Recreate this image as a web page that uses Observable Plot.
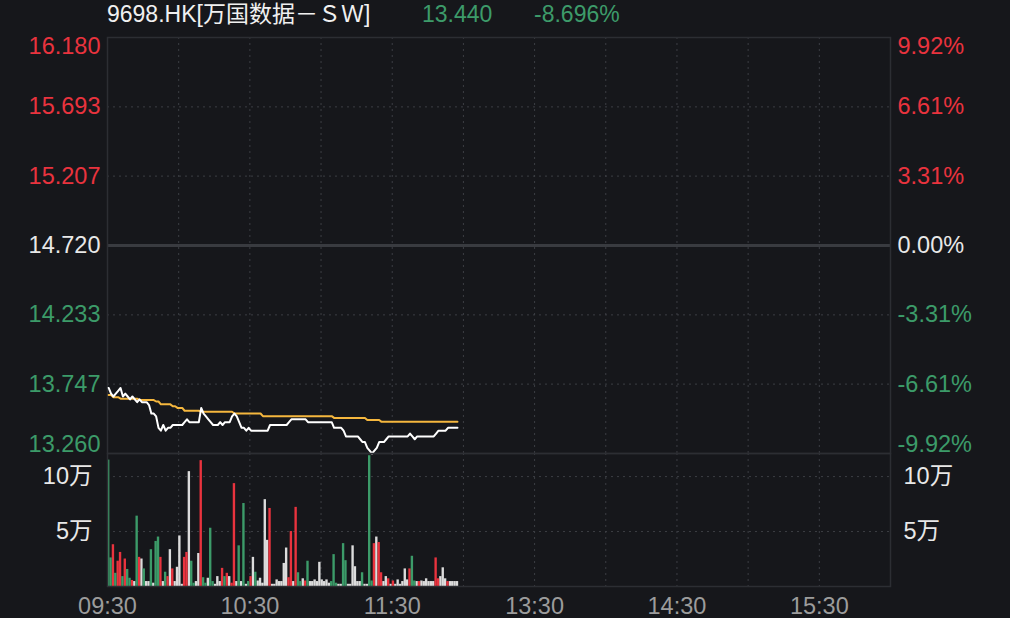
<!DOCTYPE html>
<html>
<head>
<meta charset="utf-8">
<script src="https://cdn.jsdelivr.net/npm/d3@7"></script>
<script src="https://cdn.jsdelivr.net/npm/@observablehq/plot@0.6"></script>
<style>
html,body{margin:0;padding:0;background:#16171b;width:1010px;height:618px;overflow:hidden;}
#wrap{position:relative;width:1010px;height:618px;font-family:'Liberation Sans',Arial,'Noto Sans CJK SC',sans-serif;}
#hdr{position:absolute;left:0;top:0;height:30px;width:1010px;font-size:23px;color:#f0f0f0;}
#hdr span{position:absolute;top:1px;line-height:26px;white-space:nowrap;}
#price{position:absolute;left:0;top:30px;}
#vol{position:absolute;left:0;top:453px;}
</style>
</head>
<body>
<div id="wrap">
  <div id="hdr"><span id="name" style="left:107px"></span><span id="last" style="left:422px;color:#3d9b6a"></span><span id="chg" style="left:534px;color:#3d9b6a"></span></div>
  <div id="price"></div>
  <div id="vol"></div>
</div>
<script>
// ---- header values ----
const title = "9698.HK[万国数据－ＳＷ]";
const lastPrice = "13.440";
const changePct = "-8.696%";

// ---- axis values ----
const prevClose = 14.72;
const priceTicks = [16.18, 15.693, 15.207, 14.72, 14.233, 13.747, 13.26];
const volTicks = [50000, 100000];
const timeTicks = [0, 60, 120, 180, 240, 300];       // trading minutes since 09:30 (lunch skipped)
const timeLabels = ["09:30", "10:30", "11:30", "13:30", "14:30", "15:30"];
const gridMinutes = [30, 60, 90, 120, 150, 180, 210, 240, 270, 300];
const sessionMinutes = [0, 330];

// ---- per-minute price (white line) ----
const price = [
  13.72,13.68,13.66,13.68,13.70,13.72,13.66,13.68,13.66,13.64,
  13.66,13.64,13.62,13.64,13.62,13.62,13.62,13.60,13.54,13.54,
  13.52,13.44,13.42,13.46,13.42,13.44,13.44,13.46,13.46,13.46,
  13.46,13.46,13.48,13.50,13.48,13.48,13.48,13.48,13.48,13.58,
  13.54,13.52,13.50,13.48,13.46,13.46,13.46,13.48,13.46,13.48,
  13.48,13.48,13.52,13.54,13.52,13.48,13.44,13.44,13.42,13.44,
  13.42,13.42,13.42,13.42,13.42,13.42,13.42,13.42,13.46,13.46,
  13.46,13.46,13.46,13.46,13.46,13.46,13.48,13.50,13.50,13.50,
  13.50,13.50,13.50,13.50,13.48,13.48,13.48,13.48,13.48,13.48,
  13.48,13.48,13.48,13.48,13.48,13.44,13.44,13.44,13.44,13.42,
  13.38,13.38,13.38,13.38,13.38,13.38,13.36,13.34,13.34,13.30,
  13.28,13.26,13.28,13.30,13.34,13.34,13.34,13.36,13.38,13.38,
  13.38,13.38,13.38,13.38,13.38,13.38,13.38,13.40,13.38,13.36,
  13.38,13.38,13.38,13.38,13.38,13.38,13.38,13.38,13.40,13.42,
  13.42,13.42,13.42,13.44,13.44,13.44,13.44,13.44
];

// ---- per-minute average price (yellow line) ----
const avgPrice = [
  13.670,13.670,13.655,13.655,13.655,13.645,13.645,13.645,13.645,13.645,
  13.645,13.645,13.645,13.635,13.635,13.635,13.635,13.635,13.635,13.635,
  13.625,13.625,13.605,13.605,13.605,13.605,13.605,13.592,13.592,13.580,
  13.580,13.580,13.560,13.560,13.560,13.560,13.560,13.560,13.560,13.553,
  13.553,13.553,13.553,13.553,13.553,13.553,13.553,13.553,13.553,13.553,
  13.553,13.553,13.553,13.541,13.541,13.541,13.541,13.541,13.541,13.541,
  13.541,13.541,13.541,13.541,13.541,13.522,13.522,13.522,13.522,13.522,
  13.522,13.522,13.522,13.522,13.522,13.522,13.522,13.522,13.522,13.522,
  13.522,13.522,13.522,13.522,13.522,13.522,13.522,13.522,13.522,13.522,
  13.522,13.522,13.522,13.522,13.522,13.510,13.510,13.510,13.510,13.510,
  13.510,13.510,13.510,13.510,13.510,13.510,13.510,13.510,13.510,13.495,
  13.495,13.495,13.495,13.495,13.495,13.482,13.482,13.482,13.482,13.482,
  13.482,13.482,13.482,13.482,13.482,13.482,13.482,13.482,13.482,13.482,
  13.482,13.482,13.482,13.482,13.482,13.482,13.482,13.482,13.482,13.482,
  13.482,13.482,13.482,13.482,13.482,13.482,13.482,13.482
];

// ---- per-minute volume (shares) ----
const volume = [
  115000,26000,38000,12000,23000,31000,9000,25000,15500,7500,
  5500,4500,64000,26500,25000,16000,4500,4500,33500,3000,
  41000,45000,26500,4500,13000,9000,33500,16000,4500,17500,
  46000,2000,26500,31000,104500,23000,3000,4500,30000,114500,
  8000,3000,7500,53000,4500,2000,9000,4500,16500,9000,
  12000,9000,3000,93600,4500,37000,4500,75500,2000,4500,
  9000,26500,13000,5000,7500,3000,79000,42000,71000,2000,
  2000,6000,4500,4500,21000,35000,8000,50000,4500,72000,
  12500,4500,7000,5000,23000,4500,4500,6000,4500,22000,
  6000,4500,6000,3000,4500,29000,3000,2000,2000,39000,
  23500,2000,2000,37000,18000,4500,4500,12500,2000,2000,
  119000,5000,39000,45000,40000,12500,4500,9000,7000,2000,
  5000,2000,6000,2000,4500,16000,6000,16000,27500,5000,
  4500,4500,5000,4500,7000,4500,4500,4500,26000,7000,
  9000,17000,7000,4500,4500,4500,4500,4500
];
// bar direction: u = up (red), d = down (green), f = flat (white)
const direction = [
  "d","d","u","d","u","u","d","u","d","d",
  "u","f","d","u","f","d","f","f","d","f",
  "d","d","u","f","d","u","f","u","f","f",
  "f","f","u","u","f","d","d","f","f","u",
  "d","d","f","d","d","f","f","f","u","d",
  "u","f","u","u","f","d","f","d","f","d",
  "u","f","d","f","f","f","f","f","u","f",
  "f","f","f","f","f","f","u","u","f","u",
  "d","d","f","u","d","f","f","f","f","f",
  "f","f","f","f","d","d","d","f","f","d",
  "d","f","f","f","f","f","f","d","f","f",
  "d","d","u","f","u","u","f","f","u","f",
  "u","f","f","f","f","f","f","u","d","d",
  "f","u","f","f","f","f","f","f","u","u",
  "f","f","f","u","f","f","f","f"
];

// ---- styles ----
const FONT = "'Liberation Sans', Arial, 'Noto Sans CJK SC', sans-serif";
const FS = 23.5;
const RED = "#e9333e";
const GREEN = "#3c9b69";
const WHITE_TXT = "#e8e8e8";
const GRID = "#3c3e44";
const FRAME = "#2c2e33";
const W = 1010, ML = 107, MR = 120;

document.getElementById("name").textContent = title;
document.getElementById("last").textContent = lastPrice;
document.getElementById("chg").textContent = changePct;

const priceData = price.map((p, i) => ({t: i + 0.5, p}));
const avgData = avgPrice.map((p, i) => ({t: i + 0.5, p}));
const volData = volume.map((v, i) => ({t0: i, t1: i + 1, v, dir: direction[i]}));

const tickColor = v => v > prevClose ? RED : v < prevClose ? GREEN : WHITE_TXT;
const pctFmt = v => ((v - prevClose) / prevClose * 100).toFixed(2) + "%";

const priceAxes = [];
priceTicks.forEach((v, i) => {
  const last = i === priceTicks.length - 1;
  const la = i === 0 ? "top" : last ? "bottom" : "middle";
  const dy = last ? -1.5 : 0;
  priceAxes.push(Plot.axisY([v], {anchor: "left", label: null, tickSize: 0, tickPadding: 7, lineAnchor: la, dy,
    tickFormat: d => d.toFixed(3), fill: tickColor(v), fontSize: FS}));
  priceAxes.push(Plot.axisY([v], {anchor: "right", label: null, tickSize: 0, tickPadding: 7, lineAnchor: la, dy,
    tickFormat: pctFmt, fill: tickColor(v), fontSize: FS}));
});

const innerTicks = priceTicks.filter((v, i) => i > 0 && i < priceTicks.length - 1 && v !== prevClose);

const pricePlot = Plot.plot({
  width: W, height: 425,
  marginLeft: ML, marginRight: MR, marginTop: 7, marginBottom: 2,
  x: {domain: sessionMinutes, axis: null},
  y: {domain: [priceTicks[priceTicks.length - 1], priceTicks[0]], axis: null},
  style: {background: "transparent", fontFamily: FONT, fontSize: FS + "px", overflow: "visible"},
  marks: [
    Plot.ruleY(innerTicks, {stroke: GRID, strokeDasharray: "2,4"}),
    Plot.ruleX(gridMinutes, {stroke: GRID, strokeDasharray: "2,4"}),
    Plot.ruleY([prevClose], {stroke: "#393b40", strokeWidth: 3}),
    Plot.frame({stroke: FRAME, strokeWidth: 1.5}),
    Plot.line(avgData, {x: "t", y: "p", stroke: "#f5b73e", strokeWidth: 2}),
    Plot.line(priceData, {x: "t", y: "p", stroke: "#ffffff", strokeWidth: 2}),
    ...priceAxes
  ]
});
document.getElementById("price").appendChild(pricePlot);

const volFmt = d => (d / 10000) + "万";
const volPlot = Plot.plot({
  width: W, height: 165,
  marginLeft: ML, marginRight: MR, marginTop: 0, marginBottom: 32,
  x: {domain: sessionMinutes, axis: null},
  y: {domain: [0, 121000], axis: null},
  style: {background: "transparent", fontFamily: FONT, fontSize: FS + "px", overflow: "visible"},
  marks: [
    Plot.ruleY(volTicks, {stroke: GRID, strokeDasharray: "2,4"}),
    Plot.ruleX(gridMinutes, {stroke: GRID, strokeDasharray: "2,4"}),
    Plot.rectY(volData.filter(d => d.dir === "f"), {x1: "t0", x2: "t1", y: "v", fill: "#dcdcdc"}),
    Plot.rectY(volData.filter(d => d.dir === "u"), {x1: "t0", x2: "t1", y: "v", fill: RED}),
    Plot.rectY(volData.filter(d => d.dir === "d"), {x1: "t0", x2: "t1", y: "v", fill: GREEN}),
    Plot.frame({stroke: FRAME, strokeWidth: 1.5}),
    Plot.axisY(volTicks, {anchor: "left", label: null, tickSize: 0, tickPadding: 15, tickFormat: volFmt, fill: WHITE_TXT, fontSize: FS}),
    Plot.axisY(volTicks, {anchor: "right", label: null, tickSize: 0, tickPadding: 13, tickFormat: volFmt, fill: WHITE_TXT, fontSize: FS}),
    Plot.axisX(timeTicks, {anchor: "bottom", label: null, tickSize: 0, tickPadding: 11,
      tickFormat: d => timeLabels[timeTicks.indexOf(d)], fill: "#9c9c9c", fontSize: FS})
  ]
});
document.getElementById("vol").appendChild(volPlot);
</script>
</body>
</html>
